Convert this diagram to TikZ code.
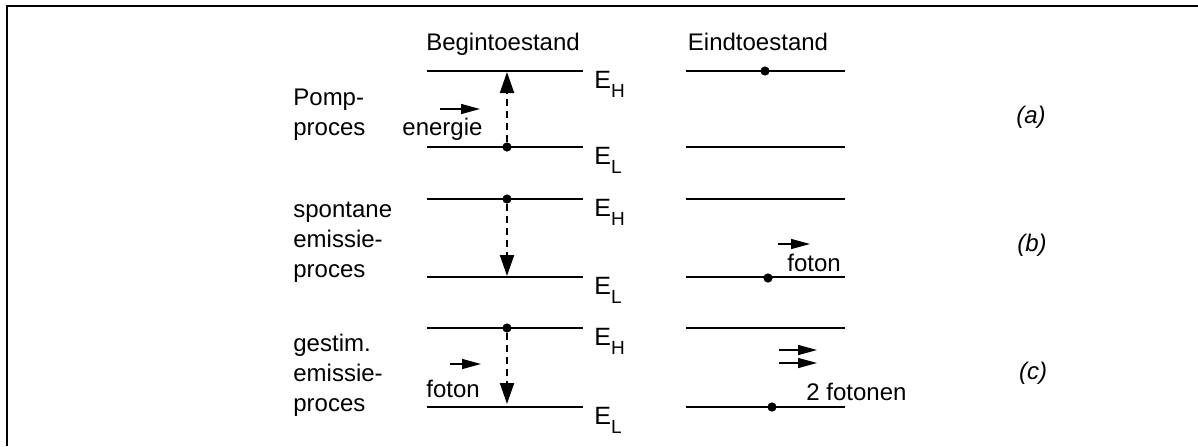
\documentclass[tikz,border=0pt]{standalone}
\usepackage{fontspec}
\setmainfont{Liberation Sans}
\usetikzlibrary{arrows.meta,positioning}
\tikzset{txt/.style={font=\fontsize{12}{15}\selectfont,inner sep=0pt}, lbl/.style={txt,align=left,anchor=base west}, level/.style={line width=0.7pt}, elec/.style={circle,fill=black,inner sep=0pt,minimum size=4.6pt}, jump/.style={-{Triangle[length=10.5pt,width=7pt]},line width=1pt,dash pattern=on 3.5pt off 2.5pt}, fot/.style={-{Triangle[length=9.5pt,width=5pt]},line width=0.7pt}}
\newcommand{\Elev}[1]{E\raisebox{-4.5pt}{\fontsize{9.5}{10}\selectfont #1}}

\begin{document}
\begin{tikzpicture}[x=0.5pt,y=-0.5pt]
\useasboundingbox (0,0) rectangle (1198,446);
\draw[line width=1pt] (7,446) -- (7,6) -- (1198,6);
% energy levels, begin and end state
\foreach \y/\s in {71/H,147/L,199/H,277/L,328/H,407/L}{
  \draw[level] (427,\y) -- (583,\y);
  \draw[level] (686,\y) -- (845,\y);
  \node[txt,font=\fontsize{12.5}{15}\selectfont,anchor=base west] (E\y) at (594,\y+17) {\Elev{\s}};}
\node[txt,anchor=base] (begin) at (503,50) {Begintoestand};
\node[txt,anchor=base] (eind) at (758,50) {Eindtoestand};
% the base of a multi-line node is its last line
\node[lbl] (pomp) at (293,135) {Pomp-\\proces};
\node[lbl] (spont) at (293,277) {spontane\\emissie-\\proces};
\node[lbl] (gestim) at (293,411) {gestim.\\emissie-\\proces};
\node[txt,font=\fontsize{12}{15}\selectfont\itshape] (ka) at (1031,117) {(a)};
\node[txt,font=\fontsize{12}{15}\selectfont\itshape] (kb) at (1032,245) {(b)};
\node[txt,font=\fontsize{12}{15}\selectfont\itshape] (kc) at (1033,373) {(c)};
% electrons
\node[elec] (a0) at (507,147) {};
\node[elec] (a1) at (765,71) {};
\node[elec] (b0) at (507,199) {};
\node[elec] (b1) at (768,278) {};
\node[elec] (c0) at (507,328) {};
\node[elec] (c1) at (772,407) {};
\coordinate (aT) at (507,72);
\coordinate (bT) at (507,276);
\coordinate (cT) at (507,404);
\draw[jump] (a0) -- (aT);\draw[jump] (b0) -- (bT);\draw[jump] (c0) -- (cT);
% incoming energy and photons
\node[lbl] (energie) at (402,135) {energie};
\node[lbl] (fotin) at (426,397) {foton};
\node[lbl] (fotuit) at (787,271) {foton};
\node[lbl] (twee) at (806,400) {2 fotonen};
\coordinate (e1) at (440,109);\coordinate (e2) at (480,109);
\coordinate (f1) at (450,364);\coordinate (f2) at (481,364);
\coordinate (g1) at (778,244);\coordinate (g2) at (810,244);
\coordinate (h1) at (779,350);\coordinate (h2) at (817,350);
\coordinate (k1) at (779,363);\coordinate (k2) at (817,363);
\draw[fot] (e1) -- (e2);\draw[fot] (f1) -- (f2);\draw[fot] (g1) -- (g2);
\draw[fot] (h1) -- (h2);\draw[fot] (k1) -- (k2);
\end{tikzpicture}
\end{document}
